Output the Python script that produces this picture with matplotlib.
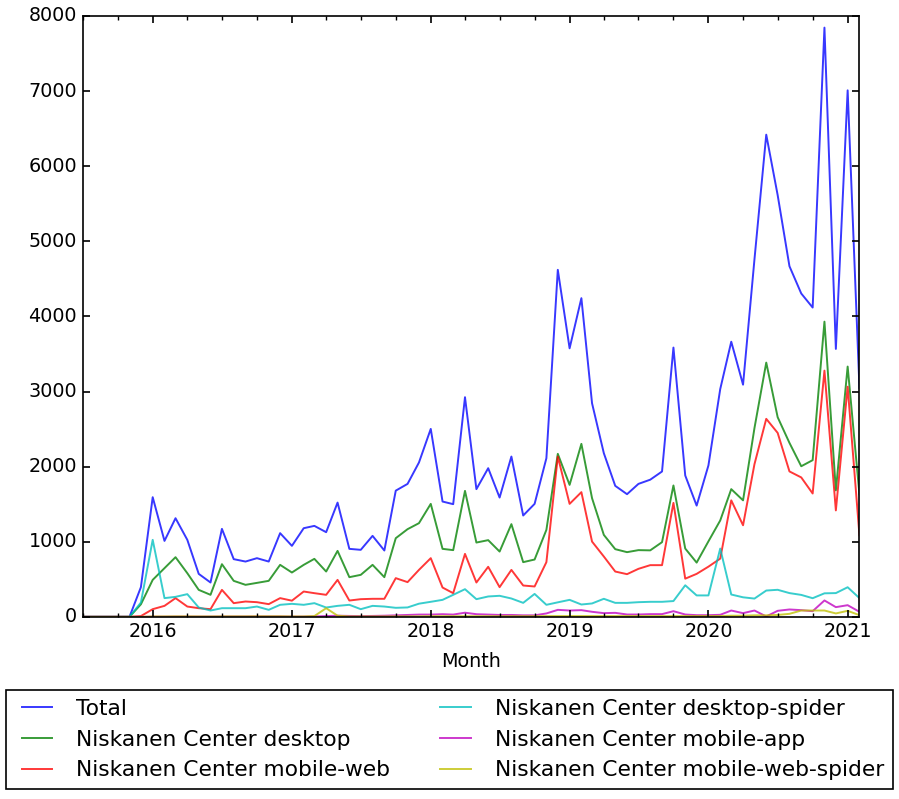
import numpy as np
import pandas as pd
import matplotlib
matplotlib.use("Agg")
import matplotlib.pyplot as plt
import matplotlib.dates as mdates

plt.style.use("classic")
plt.rcParams["font.size"] = 13.8
plt.rcParams["axes.linewidth"] = 1.2

# Monthly page views, Jul 2015 - Feb 2021
months = pd.date_range("2015-07-01", "2021-02-01", freq="MS")

total = [
    0, 0, 0, 0, 0, 395,
    1593, 1011, 1313, 1025, 572, 457, 1171, 768, 736, 781, 736, 1114,
    945, 1180, 1211, 1127, 1521, 905, 892, 1078, 883, 1680, 1770, 2055,
    2502, 1535, 1500, 2924, 1700, 1979, 1588, 2134, 1349, 1504, 2112, 4620,
    3575, 4243, 2844, 2179, 1744, 1633, 1770, 1826, 1935, 3585, 1882, 1481,
    2016, 3032, 3663, 3091, 4759, 6420, 5615, 4668, 4305, 4118, 7845, 3567,
    7010, 3048,
]
desktop = [
    0, 0, 0, 0, 0, 167,
    492, 648, 794, 581, 359, 293, 701, 479, 426, 452, 479, 692,
    590, 692, 772, 603, 878, 528, 559, 692, 528, 1047, 1167, 1247,
    1504, 905, 888, 1677, 989, 1021, 869, 1234, 728, 763, 1158, 2170,
    1757, 2303, 1580, 1091, 901, 861, 888, 885, 994, 1749, 909, 722,
    1005, 1283, 1700, 1551, 2513, 3385, 2658, 2316, 2005, 2086, 3930, 1684,
    3332, 1631,
]
mobile_web = [
    0, 0, 0, 0, 0, 10,
    102, 146, 249, 137, 115, 102, 359, 182, 204, 195, 169, 249,
    215, 337, 315, 293, 492, 217, 235, 240, 240, 515, 462, 625,
    781, 390, 315, 838, 457, 666, 395, 625, 417, 404, 728, 2134,
    1504, 1660, 1002, 803, 603, 568, 639, 688, 688, 1517, 508, 572,
    668, 775, 1551, 1219, 2032, 2636, 2449, 1936, 1856, 1642, 3278, 1417,
    3064, 1086,
]
desktop_spider = [
    0, 0, 0, 0, 0, 190,
    1025, 249, 266, 302, 124, 84, 115, 115, 115, 137, 93, 160,
    173, 160, 182, 124, 146, 160, 102, 146, 137, 120, 125, 175,
    200, 226, 293, 368, 235, 271, 280, 244, 186, 305, 160, 193,
    226, 164, 178, 240, 186, 186, 195, 200, 200, 210, 420, 285,
    285, 909, 297, 260, 243, 350, 360, 316, 292, 248, 313, 316,
    394, 249,
]
mobile_app = [
    0, 0, 0, 0, 0, 0,
    2, 2, 3, 3, 3, 3, 4, 4, 4, 5, 5, 5,
    3, 3, 5, 10, 15, 12, 10, 12, 15, 20, 25, 30,
    30, 35, 30, 55, 35, 30, 25, 25, 20, 20, 45, 93,
    84, 89, 67, 49, 53, 31, 31, 36, 36, 75, 31, 22,
    22, 27, 84, 49, 84, 5, 80, 98, 89, 75, 218, 129,
    155, 67,
]
mobile_web_spider = [
    0, 0, 0, 0, 0, 0,
    5, 5, 6, 6, 5, 5, 6, 6, 6, 7, 7, 7,
    5, 5, 10, 115, 15, 5, 5, 5, 5, 6, 6, 6,
    8, 8, 8, 8, 8, 8, 8, 8, 8, 8, 10, 10,
    10, 10, 10, 10, 10, 10, 10, 10, 10, 10, 10, 10,
    10, 10, 15, 15, 20, 20, 25, 40, 84, 84, 84, 45,
    80, 22,
]

series = [
    ("Total", total, "b"),
    ("Niskanen Center desktop", desktop, "g"),
    ("Niskanen Center mobile-web", mobile_web, "r"),
    ("Niskanen Center desktop-spider", desktop_spider, "c"),
    ("Niskanen Center mobile-app", mobile_app, "m"),
    ("Niskanen Center mobile-web-spider", mobile_web_spider, "y"),
]

fig = plt.figure(figsize=(8.99, 7.99), dpi=100)
ax = fig.add_axes([0.092, 0.228, 0.864, 0.752])

for name, vals, col in series:
    ax.plot(months, vals, color=col, label=name, lw=1.4, alpha=0.78)

ax.set_xlim(months[0], months[-1])
ax.set_ylim(0, 8000)
ax.xaxis.set_major_locator(mdates.YearLocator())
ax.xaxis.set_major_formatter(mdates.DateFormatter("%Y"))
ax.xaxis.set_minor_locator(mdates.MonthLocator(bymonth=[1, 4, 7, 10]))
ax.tick_params(which="major", length=5, width=1.2)
ax.tick_params(which="minor", length=3, width=1.0)
ax.set_xlabel("Month", labelpad=8)

leg = fig.legend(loc="upper center", bbox_to_anchor=(0.5, 1 - 679 / 799),
                 ncol=2, fontsize=15.7)
leg.get_frame().set_linewidth(1.2)

fig.savefig("out.png", dpi=100)
